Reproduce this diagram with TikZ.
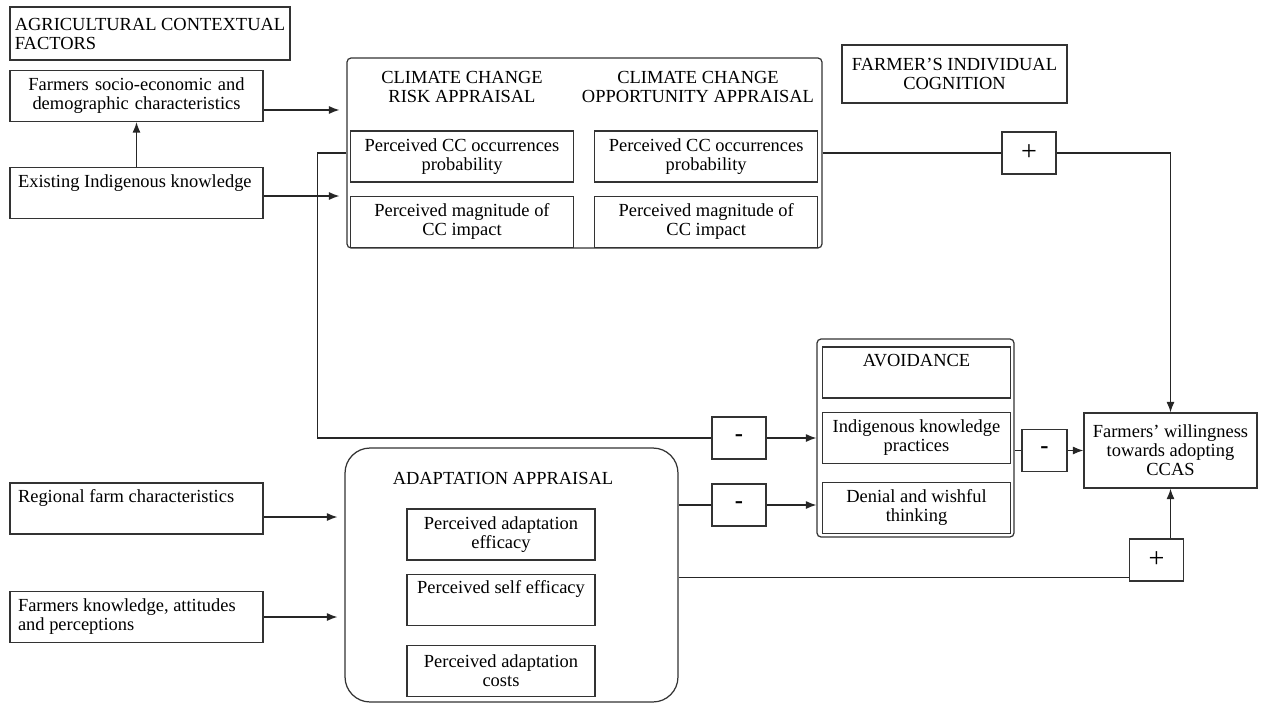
\documentclass[tikz,border=0pt]{standalone}
\usepackage{fontspec}
\setmainfont{Liberation Serif}
\usetikzlibrary{positioning, arrows.meta}

\begin{document}
\begin{tikzpicture}[x=0.02cm, y=-0.02cm,
                every node/.style={font=\fontsize{10.5}{10.8}\selectfont},
                line/.style={draw=black!85, line width=0.7pt},
                arr/.style={line, -{Latex[length=2.1mm, width=1.6mm]}},
                box/.style={draw=black!80, line width=0.7pt, rectangle, inner sep=0pt, align=center},
                ctxbox/.style={box, inner xsep=0.16cm, text width=4.74cm, minimum height=1.02cm, align=flush left},
                ccbox/.style={box, minimum width=4.46cm, minimum height=1.02cm},
                subbox/.style={box, minimum width=3.76cm, minimum height=1.02cm},
                groupbox/.style={box, rounded corners=0.08cm},
                grouptitle/.style={align=center, inner sep=0pt},
                sign/.style={box, minimum width=1.08cm, minimum height=0.84cm, font=\fontsize{16}{16}\selectfont},
                minussign/.style={sign, font=\fontsize{14}{14}\selectfont\bfseries}
            ]
            \useasboundingbox (0,0) rectangle (1261,703);

            % Kontextfaktoren
            \node[box, align=left, minimum width=5.6cm, minimum height=1.06cm] (agri) at (150,33.5) {AGRICULTURAL CONTEXTUAL\\FACTORS};
            \node[ctxbox, align=center] (socio) at (136.5,96) {Farmers socio-economic and\\demographic characteristics};
            \node[ctxbox] (exist) at (136.5,193) {Existing Indigenous knowledge\\\strut};
            \node[ctxbox] (regional) at (136.5,508.5) {Regional farm characteristics\\\strut};
            \node[ctxbox] (knowl) at (136.5,617) {Farmers knowledge, attitudes\\and perceptions};

            % Klimawandel-Bewertung
            \node[groupbox, minimum width=9.5cm, minimum height=3.8cm] (cc) at (584.5,153) {};
            \node[grouptitle] (risktitle) at (462,87) {CLIMATE CHANGE\\RISK APPRAISAL};
            \node[grouptitle] (opptitle) at (698,87) {CLIMATE CHANGE\\OPPORTUNITY APPRAISAL};
            \node[ccbox] (riskprob) at (462,156.5) {Perceived CC occurrences\\probability};
            \node[ccbox, below=0.26cm of riskprob] (riskmag) {Perceived magnitude of\\CC impact};
            \node[ccbox, right=0.4cm of riskprob] (oppprob) {Perceived CC occurrences\\probability};
            \node[ccbox, below=0.26cm of oppprob] (oppmag) {Perceived magnitude of\\CC impact};

            \node[box, minimum width=4.5cm, minimum height=1.16cm] (cog) at (954.5,74) {FARMER’S INDIVIDUAL\\COGNITION};

            % Vermeidung
            \node[groupbox, minimum width=3.94cm, minimum height=3.96cm] (avoid) at (915.5,438) {};
            \node[subbox] (avtitle) at (916.5,372.5) {AVOIDANCE\\\strut};
            \node[subbox, below=0.26cm of avtitle] (ikp) {Indigenous knowledge\\practices};
            \node[subbox, below=0.36cm of ikp] (denial) {Denial and wishful\\thinking};

            % Anpassungs-Bewertung
            \node[groupbox, rounded corners=0.5cm, minimum width=6.66cm, minimum height=5.08cm] (adapt) at (511.5,575) {};
            \node[grouptitle] (adtitle) at (503,478) {ADAPTATION APPRAISAL};
            \node[subbox] (eff) at (501,534.5) {Perceived adaptation\\efficacy};
            \node[subbox, below=0.26cm of eff] (self) {Perceived self efficacy\\\strut};
            \node[subbox, below=0.38cm of self] (costs) {Perceived adaptation\\costs};

            \node[box, minimum width=3.46cm, minimum height=1.5cm] (will) at (1170.5,450.5) {Farmers’ willingness\\towards adopting\\CCAS};

            % Vorzeichen
            \node[sign] (plus1) at (1029,153) {+};
            \node[minussign] (minus1) at (739,438) {-};
            \node[minussign] (minus2) at (739,505) {-};
            \node[minussign, minimum width=0.9cm] (minus3) at (1044.5,450.5) {-};
            \node[sign] (plus2) at (1156.5,560) {+};

            % Kanten
            \draw[arr] (exist.north) -- (socio.south);
            \draw[arr, shorten >=0.14cm] ([yshift=-0.28cm]socio.east) -- ([yshift=-0.28cm]socio.east -| cc.west);
            \draw[arr, shorten >=0.14cm] ([yshift=-0.06cm]exist.east) -- ([yshift=-0.06cm]exist.east -| cc.west);
            \draw[arr, shorten >=0.14cm] ([yshift=-0.17cm]regional.east) -- ([yshift=-0.17cm]regional.east -| adapt.west);
            \draw[arr, shorten >=0.14cm] (knowl.east) -- (knowl.east -| adapt.west);

            \draw[line] (cc.west) -- ++(-0.58cm,0) |- (minus1.west);
            \draw[arr] (minus1.east) -- (minus1.east -| avoid.west);
            \draw[line] (cc.east) -- (plus1.west);
            \draw[arr] (plus1.east) -| (will.north);
            \draw[line] (adapt.east |- minus2.west) -- (minus2.west);
            \draw[arr] (minus2.east) -- (minus2.east -| avoid.west);
            \draw[line] (avoid.east |- minus3.west) -- (minus3.west);
            \draw[arr] (minus3.east) -- (will.west);
            \draw[line] ([yshift=0.08cm]plus2.south west -| adapt.east) -- ([yshift=0.08cm]plus2.south west);
            \draw[arr] (plus2.north -| will.south) -- (will.south);

        \end{tikzpicture}
\end{document}
